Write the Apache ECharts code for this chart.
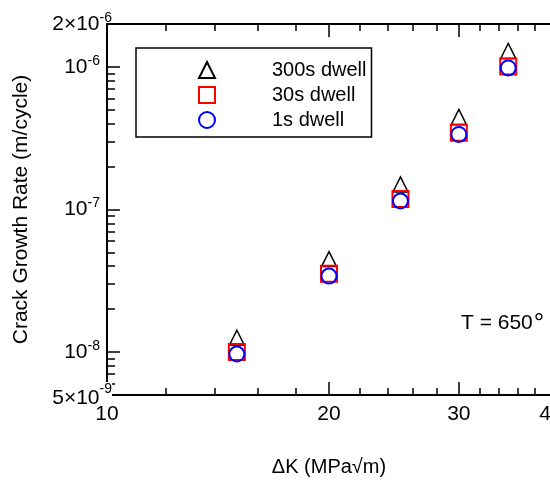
<!DOCTYPE html>
<html><head><meta charset="utf-8">
<script src="https://cdn.jsdelivr.net/npm/echarts@6/dist/echarts.min.js"></script>
<style>html,body{margin:0;padding:0;background:#fff}#c{width:550px;height:486px}</style>
</head><body><div id="c"></div>
<script>
const deltaK = [15, 20, 25, 30, 35];
const rate300s = [1.26e-8, 4.49e-8, 1.50e-7, 4.46e-7, 1.295e-6];
const rate30s = [1.00e-8, 3.54e-8, 1.185e-7, 3.45e-7, 1.008e-6];
const rate1s = [0.968e-8, 3.41e-8, 1.147e-7, 3.36e-7, 0.984e-6];
const seriesNames = ['300s dwell', '30s dwell', '1s dwell'];
const xMajorTicks = [10, 20, 30, 40];
const xMajorLabels = ['10', '20', '30', '40'];
const xMinorTicks = [12, 14, 16, 18, 22, 24, 26, 28, 32, 34, 36, 38];
const yMajorTicks = [5e-9, 1e-8, 1e-7, 1e-6, 2e-6];
const yMajorLabels = ['{w|5×10}{wsup|-9}', '10{sup|-8}{sp|}', '10{sup|-7}{sp|}', '10{sup|-6}{sp|}', '2×10{sup|-6}'];
const yMinorTicks = [6e-9, 7e-9, 8e-9, 9e-9,
  2e-8, 3e-8, 4e-8, 5e-8, 6e-8, 7e-8, 8e-8, 9e-8,
  2e-7, 3e-7, 4e-7, 5e-7, 6e-7, 7e-7, 8e-7, 9e-7];
const xName = 'ΔK (MPa√m)';
const yName = 'Crack Growth Rate (m/cycle)';
const noteText = '{a|T = 650}{d|°}';

const FONT = 'Liberation Sans, Arial, sans-serif';
function pick(ticks, labels, v) {
  for (let i = 0; i < ticks.length; i++) {
    if (Math.abs(Math.log10(v) - Math.log10(ticks[i])) < 1e-6) return labels[i];
  }
  return '';
}
const X = {min: 10, max: 40};
const Y = {min: 5e-9, max: 2e-6};
const lineStyle = {color: '#000', width: 2};
const tickStyle = {color: '#000', width: 1.5};

const chart = echarts.init(document.getElementById('c'), null, {renderer: 'canvas'});
const gridRect = {left: 107, top: 24, width: 444, height: 371, outerBoundsMode: 'none', containLabel: false};
chart.setOption({
  animation: false,
  textStyle: {fontFamily: FONT},
  title: {text: noteText, left: 461, top: 311, padding: 0,
    textStyle: {fontSize: 21, fontWeight: 'normal', color: '#000', fontFamily: FONT,
      rich: {
        a: {fontSize: 21, lineHeight: 24, color: '#000', fontFamily: FONT},
        d: {fontSize: 26, lineHeight: 24, color: '#000', fontFamily: FONT, padding: [2, 0, 0, 1]}
      }}},
  grid: [Object.assign({}, gridRect), Object.assign({}, gridRect)],
  legend: {
    orient: 'vertical', left: 136, top: 48,
    padding: [12, 5, 7, 62],
    borderColor: '#000', borderWidth: 1.5,
    itemWidth: 16, itemHeight: 16, itemGap: 5,
    data: seriesNames,
    formatter: n => '{t|' + n + '}',
    textStyle: {rich: {t: {fontSize: 20, lineHeight: 20, padding: [0, 0, 0, 52], color: '#000', fontFamily: FONT}}}
  },
  xAxis: [
    {gridIndex: 0, type: 'log', logBase: 10, min: X.min, max: X.max, position: 'bottom',
      name: xName, nameLocation: 'middle', nameGap: 62,
      nameTextStyle: {fontSize: 20, color: '#000', fontFamily: FONT},
      axisLine: {lineStyle: lineStyle}, splitLine: {show: false}, minorTick: {show: false},
      axisTick: {inside: true, length: 13, lineStyle: tickStyle, customValues: xMajorTicks},
      axisLabel: {customValues: xMajorTicks, fontSize: 21, color: '#000', margin: 9, fontFamily: FONT,
        formatter: v => pick(xMajorTicks, xMajorLabels, v)}},
    {gridIndex: 0, type: 'log', logBase: 10, min: X.min, max: X.max, position: 'top',
      axisLine: {lineStyle: lineStyle}, splitLine: {show: false},
      axisTick: {inside: true, length: 13, lineStyle: tickStyle, customValues: xMajorTicks},
      axisLabel: {show: false}},
    {gridIndex: 1, type: 'log', logBase: 10, min: X.min, max: X.max, position: 'bottom',
      axisLine: {show: false}, splitLine: {show: false},
      axisTick: {inside: true, length: 7, lineStyle: tickStyle, customValues: xMinorTicks},
      axisLabel: {show: false}},
    {gridIndex: 1, type: 'log', logBase: 10, min: X.min, max: X.max, position: 'top',
      axisLine: {show: false}, splitLine: {show: false},
      axisTick: {inside: true, length: 7, lineStyle: tickStyle, customValues: xMinorTicks},
      axisLabel: {show: false}}
  ],
  yAxis: [
    {gridIndex: 0, type: 'log', logBase: 10, min: Y.min, max: Y.max, position: 'left',
      name: yName, nameLocation: 'middle', nameGap: 75, nameRotate: 90,
      nameTextStyle: {fontSize: 21, color: '#000', fontFamily: FONT},
      axisLine: {lineStyle: lineStyle}, splitLine: {show: false},
      axisTick: {inside: true, length: 13, lineStyle: tickStyle, customValues: yMajorTicks},
      axisLabel: {customValues: yMajorTicks, fontSize: 21, color: '#000', margin: -5, fontFamily: FONT,
        formatter: v => pick(yMajorTicks, yMajorLabels, v),
        rich: {
          sup: {fontSize: 14, padding: [0, 0, 12, 0], fontFamily: FONT, color: '#000'},
          sp: {width: 12},
          w: {fontSize: 21, backgroundColor: '#fff', padding: [6, 0, 0, 0], fontFamily: FONT, color: '#000'},
          wsup: {fontSize: 14, backgroundColor: '#fff', padding: [0, 0, 12, 0], fontFamily: FONT, color: '#000'}
        }}},
    {gridIndex: 1, type: 'log', logBase: 10, min: Y.min, max: Y.max, position: 'left',
      axisLine: {show: false}, splitLine: {show: false},
      axisTick: {inside: true, length: 8, lineStyle: tickStyle, customValues: yMinorTicks},
      axisLabel: {show: false}}
  ],
  series: [
    {name: seriesNames[0], type: 'scatter', xAxisIndex: 0, yAxisIndex: 0,
      symbol: 'triangle', symbolSize: [15, 15],
      itemStyle: {color: 'rgba(0,0,0,0)', borderColor: '#000', borderWidth: 1.5, opacity: 1},
      data: deltaK.map((x, i) => [x, rate300s[i]])},
    {name: seriesNames[1], type: 'scatter', xAxisIndex: 0, yAxisIndex: 0,
      symbol: 'rect', symbolSize: 16,
      itemStyle: {color: 'rgba(0,0,0,0)', borderColor: '#ff0000', borderWidth: 2, opacity: 1},
      data: deltaK.map((x, i) => [x, rate30s[i]])},
    {name: seriesNames[2], type: 'scatter', xAxisIndex: 0, yAxisIndex: 0,
      symbol: 'circle', symbolSize: 15,
      itemStyle: {color: 'rgba(0,0,0,0)', borderColor: '#0000ff', borderWidth: 2, opacity: 1},
      data: deltaK.map((x, i) => [x, rate1s[i]])}
  ]
});
</script></body></html>
